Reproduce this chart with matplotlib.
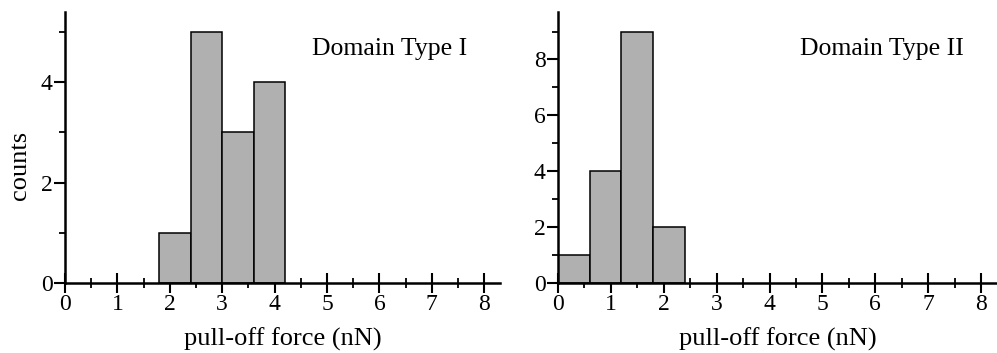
import numpy as np
import matplotlib.pyplot as plt
from matplotlib.ticker import MultipleLocator

# histogram bins (nN) and counts
edges_type1 = [1.8, 2.4, 3.0, 3.6, 4.2]
counts_type1 = [1, 5, 3, 4]

edges_type2 = [0.0, 0.6, 1.2, 1.8, 2.4]
counts_type2 = [1, 4, 9, 2]

x_ticks = [0, 1, 2, 3, 4, 5, 6, 7, 8]

plt.rcParams['font.family'] = ['Liberation Serif', 'DejaVu Serif']

fig = plt.figure(figsize=(9.97, 3.53), dpi=100)
ax1 = fig.add_axes([65 / 997, 70 / 353, 435 / 997, 271 / 353])
ax2 = fig.add_axes([558 / 997, 70 / 353, 439 / 997, 271 / 353])


def draw_hist(ax, edges, counts, ymax, label):
    edges = np.array(edges)
    ax.bar(edges[:-1], counts, width=np.diff(edges), align='edge',
           color='#b0b0b0', edgecolor='black', linewidth=1.1, zorder=2)
    ax.set_xlim(0, 8.3)
    ax.set_ylim(0, ymax)
    ax.set_xticks(x_ticks)
    ax.xaxis.set_minor_locator(MultipleLocator(0.5))
    ax.yaxis.set_major_locator(MultipleLocator(2))
    ax.yaxis.set_minor_locator(MultipleLocator(1))
    for s in ['top', 'right']:
        ax.spines[s].set_visible(False)
    for s in ['left', 'bottom']:
        ax.spines[s].set_linewidth(1.8)
        ax.spines[s].set_zorder(3)
    ax.tick_params(axis='x', which='major', direction='inout', length=14,
                   width=1.5, labelsize=17, pad=1)
    ax.tick_params(axis='x', which='minor', direction='inout', length=7,
                   width=1.3)
    ax.tick_params(axis='y', which='major', direction='out', length=8,
                   width=1.5, labelsize=17, pad=1)
    ax.tick_params(axis='y', which='minor', direction='out', length=4,
                   width=1.3)
    ax.set_xlabel('pull-off force (nN)', fontsize=19, labelpad=9)
    ax.text(0.925, 0.865, label, transform=ax.transAxes, ha='right',
            va='center', fontsize=18.5)


draw_hist(ax1, edges_type1, counts_type1, 5.4, 'Domain Type I')
draw_hist(ax2, edges_type2, counts_type2, 9.7, 'Domain Type II')
ax1.set_ylabel('counts', fontsize=19)
ax1.yaxis.set_label_coords(-0.078, 0.435)

fig.savefig('out.png', dpi=100)
